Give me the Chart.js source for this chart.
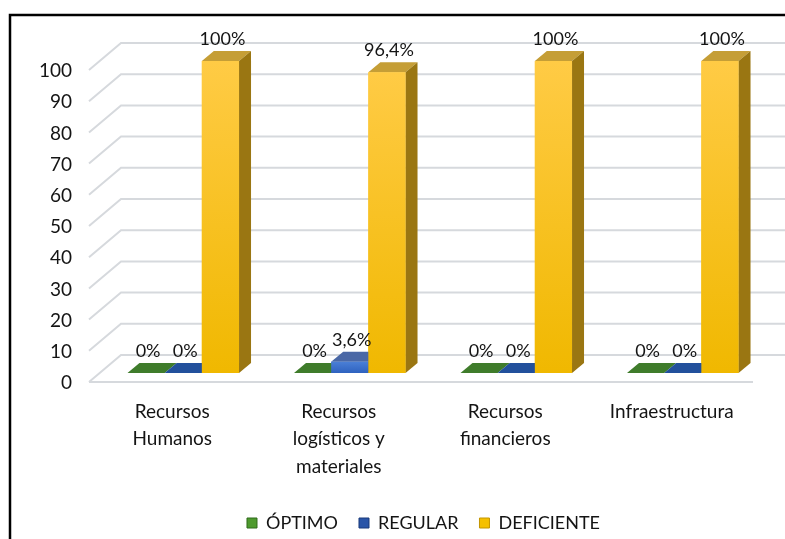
<!DOCTYPE html>
<html>
<head>
<meta charset="utf-8">
<script src="https://cdn.jsdelivr.net/npm/chart.js@4.4.0/dist/chart.umd.min.js"></script>
<style>
    html, body { margin: 0; padding: 0; background: #fff; }
    #contenedor { position: relative; width: 785px; height: 539px; }
</style>
</head>
<body>
<div id="contenedor"><canvas id="graficoRecursos" width="785" height="539"></canvas></div>
<script>
// Datos del gráfico
const categorias = [
    ['Recursos', 'Humanos'],
    ['Recursos', 'logísticos y', 'materiales'],
    ['Recursos', 'financieros'],
    ['Infraestructura']
];
const series = ['ÓPTIMO', 'REGULAR', 'DEFICIENTE'];
const valoresOptimo = [0, 0, 0, 0];
const valoresRegular = [0, 3.6, 0, 0];
const valoresDeficiente = [100, 96.4, 100, 100];
const marcasEje = [0, 10, 20, 30, 40, 50, 60, 70, 80, 90, 100];

// Estilos de cada serie (frente, tapa, lateral, leyenda)
const estilos = [
    { arriba: '#4f9034', abajo: '#3b7a26', tapa: '#3f7c2b', tapaAlta: '#4f8a38', lado: '#2d5c1c', leyenda: '#4e9a2e', borde: '#2f6a1a' },
    { arriba: '#4a7fd6', abajo: '#2f62bf', tapa: '#22509c', tapaAlta: '#4a68a6', lado: '#1b3c78', leyenda: '#2a55a8', borde: '#1a3a7a' },
    { arriba: '#ffcb45', abajo: '#f0b800', tapa: '#c59e36', tapaAlta: '#c59e36', lado: '#9a7612', leyenda: '#f5c000', borde: '#c49600' }
];

const FUENTE = 'Lato, "Open Sans", sans-serif';
const COLOR_TEXTO = '#141414';
const MURO = { x: 32, y: -27 };     // profundidad del muro de fondo
const DESPLAZO = { x: 11, y: -9 };  // las barras están a media profundidad
const FONDO_BARRA = { x: 12, y: -10 };
const AJUSTE_LEYENDA = { x: 46, y: 3 };

function degradado(i) {
    return function(context) {
        const chart = context.chart;
        const escalaY = chart.scales.y;
        if (!chart.chartArea || !escalaY) return estilos[i].abajo;
        const v = context.raw || 0;
        const yTop = escalaY.getPixelForValue(v);
        const yBase = escalaY.getPixelForValue(0);
        const g = chart.ctx.createLinearGradient(0, yTop, 0, yBase + 0.01);
        g.addColorStop(0, estilos[i].arriba);
        g.addColorStop(1, estilos[i].abajo);
        return g;
    };
}

function poligono(ctx, puntos, color) {
    ctx.beginPath();
    ctx.moveTo(puntos[0][0], puntos[0][1]);
    for (let k = 1; k < puntos.length; k++) ctx.lineTo(puntos[k][0], puntos[k][1]);
    ctx.closePath();
    ctx.fillStyle = color;
    ctx.fill();
}

function formatoPorcentaje(v) {
    return v.toString().replace('.', ',') + '%';
}

// Plugin para simular el efecto 3D de Excel
const efecto3D = {
    id: 'efecto3D',
    afterLayout(chart) {
        // la leyenda del original no está centrada en el lienzo
        const ley = chart.legend;
        if (!ley) return;
        ley.left += AJUSTE_LEYENDA.x;
        ley.right += AJUSTE_LEYENDA.x;
        ley.top += AJUSTE_LEYENDA.y;
        ley.bottom += AJUSTE_LEYENDA.y;
    },
    beforeDatasetsDraw(chart) {
        const ctx = chart.ctx;
        const area = chart.chartArea;
        const escalaY = chart.scales.y;

        ctx.save();
        ctx.strokeStyle = '#d6d9dd';
        ctx.lineWidth = 2;
        // líneas del muro de fondo con su diagonal
        marcasEje.forEach(v => {
            const y = escalaY.getPixelForValue(v);
            ctx.beginPath();
            ctx.moveTo(area.left, y);
            ctx.lineTo(area.left + MURO.x, y + MURO.y);
            ctx.lineTo(chart.width, y + MURO.y);
            ctx.stroke();
        });
        // borde frontal del piso
        const y0 = escalaY.getPixelForValue(0);
        ctx.beginPath();
        ctx.moveTo(area.left, y0);
        ctx.lineTo(area.right - 2, y0);
        ctx.stroke();
        ctx.restore();

        ctx.save();
        ctx.translate(DESPLAZO.x, DESPLAZO.y);
    },
    afterDatasetsDraw(chart) {
        const ctx = chart.ctx;
        const n = chart.data.labels.length;
        for (let j = 0; j < n; j++) {
            chart.data.datasets.forEach((ds, i) => {
                const barra = chart.getDatasetMeta(i).data[j];
                const { x, y, base, width } = barra.getProps(['x', 'y', 'base', 'width'], true);
                const izq = x - width / 2;
                const der = x + width / 2;
                const dx = FONDO_BARRA.x, dy = FONDO_BARRA.y;
                const alta = base - y > 0.5;
                poligono(ctx, [[izq, y], [izq + dx, y + dy], [der + dx, y + dy], [der, y]],
                    alta ? estilos[i].tapaAlta : estilos[i].tapa);
                if (alta) {
                    poligono(ctx, [[der, y], [der + dx, y + dy], [der + dx, base + dy], [der, base]], estilos[i].lado);
                }
                barra.draw(ctx);
            });
        }

        // etiquetas de valores
        ctx.font = '18px ' + FUENTE;
        ctx.fillStyle = COLOR_TEXTO;
        ctx.textAlign = 'center';
        ctx.textBaseline = 'bottom';
        chart.data.datasets.forEach((ds, i) => {
            chart.getDatasetMeta(i).data.forEach((barra, j) => {
                const { x, y } = barra.getProps(['x', 'y'], true);
                ctx.fillText(formatoPorcentaje(ds.data[j]), x + 2, y + FONDO_BARRA.y - 3);
            });
        });
        ctx.restore();
    },
    afterDraw(chart) {
        // marco negro superior e izquierdo
        const ctx = chart.ctx;
        ctx.save();
        ctx.strokeStyle = '#000';
        ctx.lineWidth = 2.5;
        ctx.beginPath();
        ctx.moveTo(chart.width, 15);
        ctx.lineTo(10, 15);
        ctx.lineTo(10, chart.height);
        ctx.stroke();
        ctx.restore();
    }
};

const datos = [valoresOptimo, valoresRegular, valoresDeficiente];

const grafico = new Chart(document.getElementById('graficoRecursos').getContext('2d'), {
    type: 'bar',
    data: {
        labels: categorias,
        datasets: series.map((nombre, i) => ({
            label: nombre,
            data: datos[i],
            backgroundColor: degradado(i),
            borderWidth: 0,
            clip: false,
            categoryPercentage: 0.67,
            barPercentage: 1
        }))
    },
    options: {
        responsive: false,
        animation: false,
        layout: {
            padding: { top: 70, right: 30, left: 0, bottom: 0 }
        },
        plugins: {
            tooltip: { enabled: false },
            legend: {
                position: 'bottom',
                labels: {
                    font: { family: FUENTE, size: 18 },
                    color: COLOR_TEXTO,
                    boxWidth: 10,
                    boxHeight: 10,
                    padding: 21,
                    generateLabels(chart) {
                        return chart.data.datasets.map((ds, i) => ({
                            text: ds.label,
                            fillStyle: estilos[i].leyenda,
                            strokeStyle: estilos[i].borde,
                            lineWidth: 1,
                            hidden: false,
                            datasetIndex: i,
                            fontColor: COLOR_TEXTO
                        }));
                    }
                }
            }
        },
        scales: {
            x: {
                grid: { display: false, drawTicks: false },
                border: { display: false },
                ticks: {
                    font: { family: FUENTE, size: 19, lineHeight: 1.45 },
                    color: COLOR_TEXTO,
                    padding: 16,
                    maxRotation: 0,
                    autoSkip: false
                },
                afterFit(escala) {
                    const leyenda = escala.chart.legend;
                    const altoLeyenda = leyenda ? leyenda.height : 0;
                    escala.height = escala.chart.height - altoLeyenda - 382;
                }
            },
            y: {
                min: 0,
                max: 100,
                grid: { display: false, drawTicks: false },
                border: { display: false },
                afterBuildTicks(escala) {
                    escala.ticks = marcasEje.map(v => ({ value: v }));
                },
                ticks: {
                    font: { family: FUENTE, size: 19 },
                    color: COLOR_TEXTO,
                    padding: 17,
                    labelOffset: 1
                },
                afterFit(escala) {
                    escala.width = 89;
                }
            }
        }
    },
    plugins: [efecto3D]
});
</script>
</body>
</html>
